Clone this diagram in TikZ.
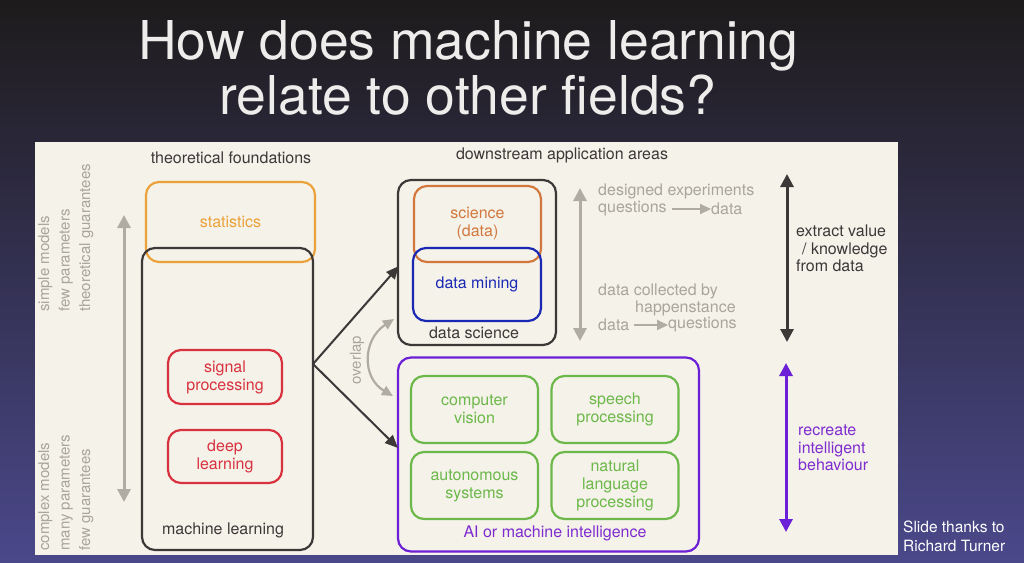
\documentclass[tikz,border=0pt]{standalone}
\usepackage{fontspec}
\setmainfont{TeX Gyre Heros}
\usetikzlibrary{arrows.meta}
\definecolor{bgtop}{HTML}{1E1B1C}
\definecolor{bgmid}{HTML}{221F26}
\definecolor{bgbot}{HTML}{4A488A}
\definecolor{panel}{HTML}{F5F2E9}
\definecolor{titlec}{HTML}{EEEDEB}
\definecolor{greyt}{HTML}{A9A59D}
\definecolor{greya}{HTML}{B0ACA4}
\definecolor{darkc}{HTML}{3D3838}
\definecolor{orangec}{HTML}{EBA23A}
\definecolor{sciencec}{HTML}{D2783E}
\definecolor{bluec}{HTML}{1A28B4}
\definecolor{redc}{HTML}{D8323F}
\definecolor{greenc}{HTML}{6CB84A}
\definecolor{purplec}{HTML}{6B1FD6}
\definecolor{purplet}{HTML}{7E2CCF}
\begin{document}
\begin{tikzpicture}[x=1pt,y=-1pt,
  box/.style={draw=#1, text=#1, line width=2.2pt, rounded corners=13pt, inner sep=0pt, align=center,
    font=\fontsize{16}{18}\selectfont},
  txt/.style={inner sep=0pt, align=center, font=\fontsize{16}{17.5}\selectfont},
  sidetxt/.style={inner sep=0pt, align=left, text=greyt, rotate=90, font=\fontsize{15}{20.5}\selectfont},
  bigarrow/.style={line width=3pt, {Triangle[width=13pt,length=13pt]}-{Triangle[width=13pt,length=13pt]}},
  conn/.style={draw=darkc, line width=2pt, -{Triangle[width=11pt,length=13pt]}},
  smallarr/.style={draw=greya, line width=2pt, -{Triangle[width=10pt,length=11pt]}}
]
\useasboundingbox (0,0) rectangle (1024,562);
\shade[top color=bgtop, middle color=bgmid, bottom color=bgbot] (0,0) rectangle (1024,562);
\fill[panel] (35,142) rectangle (898,555);

% title
\node[inner sep=0pt, align=center, text=titlec, font=\fontsize{53.5}{55}\selectfont] (title) at (468,68)
  {How does machine learning\\relate to other fields?};

% headings
\node[txt, text=darkc] (tf) at (231,158) {theoretical foundations};
\node[txt, text=darkc] (da) at (562,155) {downstream application areas};

% left side texts
\node[sidetxt, anchor=north west] (simple) at (38,312) {simple models\\few parameters\\theoretical guarantees};
\node[sidetxt, anchor=north west] (complex) at (38,551) {complex models\\many parameters\\few guarantees};
\coordinate (la1) at (124,215);
\coordinate (la2) at (124,502);
\draw[bigarrow, draw=greya, fill=greya] (la1) -- (la2);

% theoretical foundations boxes
\node[box=orangec, minimum width=169pt, minimum height=80pt] (stat) at (230.5,222) {statistics};
\node[box=darkc, minimum width=171pt, minimum height=302pt] (ml) at (227.5,399) {};
\node[txt, text=darkc] (mllbl) at (223,530) {machine learning};
\node[box=redc, minimum width=114pt, minimum height=54pt] (sp) at (225,377) {signal\\processing};
\node[box=redc, minimum width=114pt, minimum height=53pt] (dl) at (225,456.5) {deep\\learning};

% data science
\node[box=darkc, minimum width=158pt, minimum height=165pt] (ds) at (477,262.5) {};
\node[txt, text=darkc] (dslbl) at (474,333) {data science};
\node[box=sciencec, minimum width=127pt, minimum height=76pt] (sci) at (477.5,224) {science\\(data)};
\node[box=bluec, minimum width=128pt, minimum height=73pt] (dm) at (477,284.5) {data mining};

% AI
\node[box=purplec, minimum width=301pt, minimum height=194pt] (ai) at (548.5,454.5) {};
\node[txt, text=purplet] (ailbl) at (555,533) {AI or machine intelligence};
\node[box=greenc, minimum width=127pt, minimum height=67pt] (cv) at (474.5,409.5) {computer\\vision};
\node[box=greenc, minimum width=127pt, minimum height=67pt] (spp) at (615,409.5) {speech\\processing};
\node[box=greenc, minimum width=127pt, minimum height=67pt] (aus) at (474.5,485.5) {autonomous\\systems};
\node[box=greenc, minimum width=127pt, minimum height=67pt] (nlp) at (615,485.5) {natural\\language\\processing};

% connectors from machine learning
\coordinate (br) at (313,364);
\coordinate (t1) at (399,266);
\coordinate (t2) at (398,448);
\draw[draw=darkc, line width=2pt] (ml.east |- br) -- (br);
\draw[conn] (br) -- (t1);
\draw[conn] (br) -- (t2);

% overlap
\coordinate (o1) at (394,319);
\coordinate (o2) at (393,396);
\draw[draw=greya, line width=2.2pt, {Triangle[width=10pt,length=11pt]}-{Triangle[width=10pt,length=11pt]}]
  (o1) .. controls (362,340) and (362,378) .. (o2);
\node[txt, text=greyt, rotate=90, font=\fontsize{15}{17}\selectfont] (ovl) at (357,360) {overlap};

% middle gray arrow and texts
\coordinate (ma1) at (580,188);
\coordinate (ma2) at (580,341);
\draw[bigarrow, draw=greya, fill=greya] (ma1) -- (ma2);
\node[txt, text=greyt, anchor=west] (de) at (598,191) {designed experiments};
\node[txt, text=greyt, anchor=west] (q1) at (598,209) {questions};
\node[txt, text=greyt, anchor=west] (d1) at (711,209) {data};
\draw[smallarr] (q1.east) ++(5,0) coordinate (q1e) (q1e) -- (d1.west);
\node[txt, text=greyt, anchor=west] (dc) at (598,291) {data collected by};
\node[txt, text=greyt, anchor=west] (hap) at (635,308) {happenstance};
\node[txt, text=greyt, anchor=west] (d2) at (598,325) {data};
\node[txt, text=greyt, anchor=west] (q2) at (668,325) {questions};
\draw[smallarr] (d2.east) ++(4,0) coordinate (d2e) (d2e) -- (q2.west);

% right arrows
\coordinate (ra1) at (787,174);
\coordinate (ra2) at (787,342);
\draw[bigarrow, draw=darkc, fill=darkc] (ra1) -- (ra2);
\node[txt, text=darkc, anchor=north west, align=left] (ev) at (796,225) {extract value\\\hspace{6pt}/ knowledge\\from data};
\coordinate (pa1) at (786,363);
\coordinate (pa2) at (786,532);
\draw[bigarrow, draw=purplec, fill=purplec] (pa1) -- (pa2);
\node[txt, text=purplet, anchor=north west, align=left] (rib) at (798,425) {recreate\\intelligent\\behaviour};

% credit
\node[inner sep=0pt, anchor=north west, align=left, text=white, font=\fontsize{15.5}{19}\selectfont] (credit) at (903,521)
  {Slide thanks to\\Richard Turner};
\end{tikzpicture}
\end{document}
